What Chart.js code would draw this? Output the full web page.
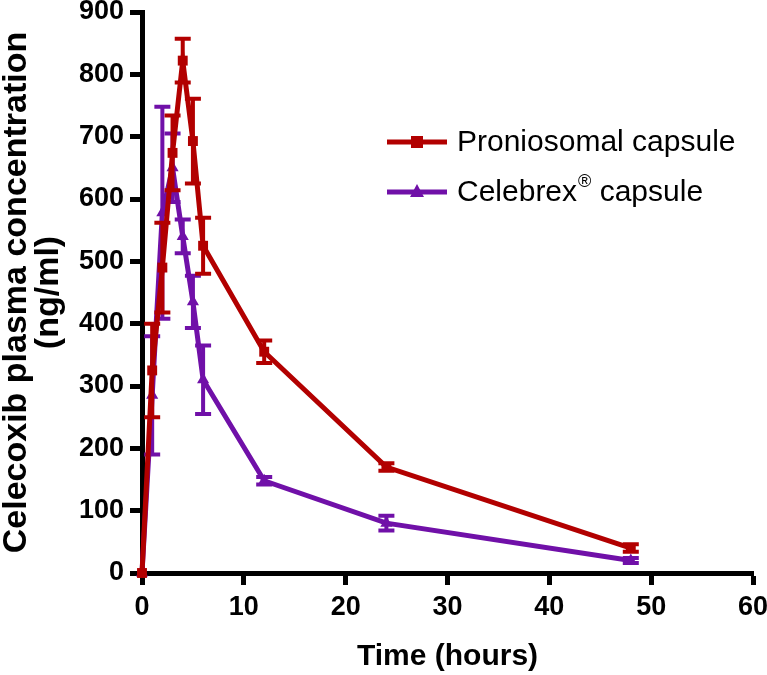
<!DOCTYPE html>
<html><head><meta charset="utf-8">
<script src="https://cdn.jsdelivr.net/npm/chart.js@4"></script>
<style>html,body{margin:0;padding:0;background:#fff}</style>
</head><body>
<canvas id="c" width="767" height="675"></canvas>
<script>
// ---- data ----
const timeHours = [0, 1, 2, 3, 4, 5, 6, 12, 24, 48];
const proniosomal = [0, 325, 490, 674, 822, 693, 525, 355, 170, 40];
const proniosomalErr = [0, 75, 72, 60, 35, 68, 45, 18, 6, 6];
const celebrex = [0, 285, 578, 650, 540, 435, 310, 148, 80, 20];
const celebrexErr = [0, 95, 170, 55, 27, 42, 55, 6, 12, 4];
const xTicks = [0, 10, 20, 30, 40, 50, 60];
const yTicks = [0, 100, 200, 300, 400, 500, 600, 700, 800, 900];
const seriesNames = ['Proniosomal capsule', 'Celebrex'];

const RED = '#B20000';
const PURPLE = '#7010A8';
const FONT = '"Liberation Sans", Arial, sans-serif';
Chart.defaults.font.family = FONT;
Chart.defaults.color = '#000';

const errs = [proniosomalErr, celebrexErr];

const errorBars = {
  id: 'errorBars',
  afterDatasetDraw(chart, args) {
    const i = args.index;
    const ds = chart.data.datasets[i];
    const meta = args.meta;
    const ys = chart.scales.y;
    const ctx = chart.ctx;
    ctx.save();
    ctx.strokeStyle = ds.borderColor;
    ctx.lineWidth = 4;
    meta.data.forEach((pt, k) => {
      const e = errs[i][k];
      if (!e) return;
      const v = ds.data[k].y;
      const yt = ys.getPixelForValue(v + e);
      const yb = ys.getPixelForValue(Math.max(0, v - e));
      ctx.beginPath();
      ctx.moveTo(pt.x, yt); ctx.lineTo(pt.x, yb);
      ctx.moveTo(pt.x - 8, yt); ctx.lineTo(pt.x + 8, yt);
      ctx.moveTo(pt.x - 8, yb); ctx.lineTo(pt.x + 8, yb);
      ctx.stroke();
    });
    ctx.restore();
  }
};

const customLegend = {
  id: 'customLegend',
  afterDraw(chart) {
    const ctx = chart.ctx;
    ctx.save();
    const rows = [
      {y: 142, color: RED, shape: 'rect'},
      {y: 192, color: PURPLE, shape: 'tri'}
    ];
    rows.forEach((r, i) => {
      ctx.strokeStyle = r.color; ctx.fillStyle = r.color; ctx.lineWidth = 5;
      ctx.beginPath(); ctx.moveTo(387, r.y); ctx.lineTo(447, r.y); ctx.stroke();
      if (r.shape === 'rect') { ctx.fillRect(411, r.y - 6, 12, 12); }
      else { ctx.beginPath(); ctx.moveTo(417, r.y - 8); ctx.lineTo(424, r.y + 5); ctx.lineTo(410, r.y + 5); ctx.closePath(); ctx.fill(); }
      ctx.fillStyle = '#000';
      ctx.textBaseline = 'middle';
      ctx.font = '30px ' + FONT;
      let x = 457;
      if (i === 0) {
        ctx.fillText(seriesNames[0], x, r.y + 1);
      } else {
        ctx.fillText(seriesNames[1], x, r.y + 1);
        x += ctx.measureText(seriesNames[1]).width;
        ctx.font = '18px ' + FONT;
        ctx.fillText('\u00AE', x + 1, r.y - 10);
        x += ctx.measureText('\u00AE').width + 1;
        ctx.font = '30px ' + FONT;
        ctx.fillText(' capsule', x, r.y + 1);
      }
    });
    ctx.restore();
  }
};

new Chart(document.getElementById('c'), {
  type: 'line',
  data: {
    datasets: [
      {
        label: seriesNames[0],
        data: timeHours.map((t, k) => ({x: t, y: proniosomal[k]})),
        borderColor: RED, backgroundColor: RED,
        borderWidth: 5, pointStyle: 'rect', pointRadius: 7, pointBorderWidth: 0,
        tension: 0, clip: false
      },
      {
        label: seriesNames[1],
        data: timeHours.map((t, k) => ({x: t, y: celebrex[k]})),
        borderColor: PURPLE, backgroundColor: PURPLE,
        borderWidth: 5, pointStyle: 'triangle', pointRadius: 7, pointBorderWidth: 0,
        tension: 0, clip: false
      }
    ]
  },
  options: {
    responsive: false,
    animation: false,
    layout: {padding: {top: 0, right: 0, left: 0, bottom: 0}},
    plugins: {legend: {display: false}, tooltip: {enabled: false}},
    scales: {
      x: {
        type: 'linear', min: 0, max: 60,
        afterBuildTicks(s) { s.ticks = xTicks.map(v => ({value: v})); },
        ticks: {font: {size: 27, weight: 'bold'}, color: '#000', padding: 6, maxRotation: 0},
        grid: {drawOnChartArea: false, drawTicks: true, tickLength: 12, tickWidth: 5, tickColor: '#000'},
        border: {display: true, color: '#000', width: 5},
        title: {display: true, text: 'Time (hours)', font: {size: 30, weight: 'bold'}, color: '#000', padding: {top: 6, bottom: 0}},
        afterFit(s) { s.height = 102; s.paddingRight = 14; s.paddingLeft = 0; }
      },
      y: {
        type: 'linear', min: 0, max: 900,
        afterBuildTicks(s) { s.ticks = yTicks.map(v => ({value: v})); },
        ticks: {font: {size: 27, weight: 'bold', lineHeight: 0.9}, color: '#000', padding: 6},
        grid: {drawOnChartArea: false, drawTicks: true, tickLength: 12, tickWidth: 5, tickColor: '#000'},
        border: {display: true, color: '#000', width: 5},
        title: {display: true, text: ['Celecoxib plasma concentration', '(ng/ml)'], font: {size: 34, weight: 'bold', lineHeight: 0.95}, color: '#000', padding: {top: 0, bottom: 2}},
        afterFit(s) { s.width = 142; s.paddingTop = 12; s.paddingBottom = 0; }
      }
    }
  },
  plugins: [errorBars, customLegend]
});
</script>
</body></html>
